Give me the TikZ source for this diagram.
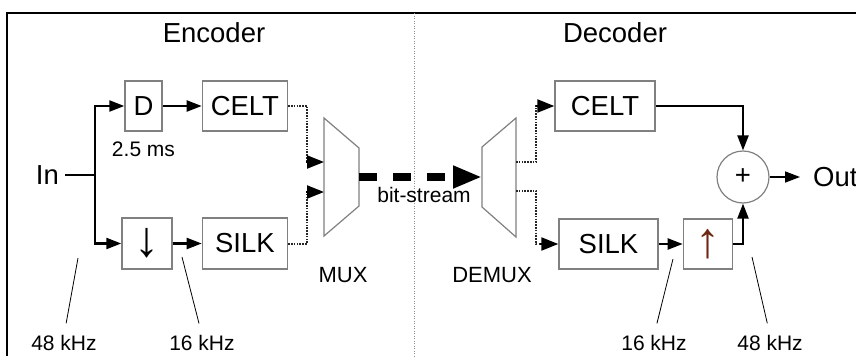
\documentclass[tikz,border=0pt]{standalone}
\usepackage{fontspec}
\setmainfont{Liberation Sans}
\usetikzlibrary{arrows.meta,positioning}
\definecolor{upred}{RGB}{110,40,20}

\begin{document}
\begin{tikzpicture}[x=1pt, y=-1pt,
  big/.style = {font=\fontsize{27.5}{30}\selectfont},
  mid/.style = {font=\fontsize{22}{25}\selectfont, inner sep=0pt},
  small/.style = {font=\fontsize{21}{24}\selectfont, inner sep=0pt},
  block/.style = {draw=black!50, line width=1.4pt, big, minimum height=50pt, inner sep=0pt},
  rate/.style = {font=\fontsize{50}{50}\selectfont},
  sum/.style = {draw=black!50, line width=1.2pt, circle, minimum size=52pt, inner sep=0pt, big},
  sig/.style = {line width=2.2pt, -{Triangle[length=15pt,width=11pt]}},
  dots/.style = {line width=2pt, black!85, dash pattern=on 1.6pt off 1.2pt, shorten >=15pt},
  tip/.style = {line width=2.2pt, -{Triangle[length=17pt,width=13pt]}},
  stream/.style = {line width=8pt, dash pattern=on 18pt off 16pt, -{Triangle[length=29pt,width=21pt]}},
  muxbox/.style = {draw=black!50, line width=1.2pt},
  leader/.style = {line width=0.8pt, shorten >=12pt}]

  \useasboundingbox (0,0) rectangle (856,356);

  \draw[line width=2pt] (7,356) -- (7,13) -- (856,13);
  \draw[black!45, line width=1pt, dash pattern=on 1pt off 1.5pt] (414,13) -- (414,356);

  \node[big] (ENC_title) at (214,33) {Encoder};
  \node[big] (DEC_title) at (615,33) {Decoder};

  \node[big, inner sep=0pt, anchor=east] (IN) at (59,175) {In};
  \coordinate (SPLIT) at (95,175);

  \node[block, minimum width=37pt] (D_enc) at (143.5,106) {D};
  \node[block, minimum width=85pt, right=39pt of D_enc] (CELT_enc) {CELT};
  \node[small, below=10pt of D_enc] (DELAY) {2.5 ms};
  \node[block, rate, minimum width=50pt, minimum height=51pt] (DOWN) at (147,243.5) {↓};
  \node[block, minimum width=85pt, minimum height=51pt, right=29pt of DOWN] (SILK_enc) {SILK};

  \draw[muxbox] (324,118) -- (359,148) -- (359,206) -- (324,236) -- cycle;
  \coordinate (MUX_a) at (324,162);
  \coordinate (MUX_b) at (324,192);
  \coordinate (MUX_o) at (359,177);
  \node[mid] (MUX_lbl) at (343,275) {MUX};

  \draw[muxbox] (482,147) -- (516,118) -- (516,237) -- (482,207) -- cycle;
  \coordinate (DEMUX_i) at (482,177);
  \coordinate (DEMUX_a) at (516,162);
  \coordinate (DEMUX_b) at (516,191);
  \node[mid] (DEMUX_lbl) at (492,275) {DEMUX};

  \node[block, minimum width=100pt] (CELT_dec) at (605,106) {CELT};
  \node[block, minimum width=99pt] (SILK_dec) at (608.5,244) {SILK};
  \node[block, rate, minimum width=49pt, right=24pt of SILK_dec] (UP) {\textcolor{upred}{↑}};
  \node[sum] (SUM) at (743,177) {+};
  \node[big, inner sep=0pt, anchor=west] (OUT) at (813,177) {Out};

  \draw[line width=2.2pt, shorten <=6pt] (IN) -- (SPLIT);
  \draw[sig] (SPLIT) |- (D_enc);
  \draw[sig] (D_enc) -- (CELT_enc);
  \draw[sig] (SPLIT) |- (DOWN);
  \draw[sig] (DOWN) -- (SILK_enc);
  \draw[dots] (CELT_enc.east) -- ++(19,0) |- (MUX_a);
  \draw[tip] (MUX_a) ++(-18,0) -- (MUX_a);
  \draw[dots] (SILK_enc.east) -- ++(19,0) |- (MUX_b);
  \draw[tip] (MUX_b) ++(-18,0) -- (MUX_b);

  \draw[stream] (MUX_o) -- (DEMUX_i);
  \node[small] (STREAM_lbl) at (424,195) {bit-stream};

  \draw[dots] (DEMUX_a) -- ++(20,0) |- (CELT_dec.west);
  \draw[tip] (CELT_dec.west) ++(-18,0) -- (CELT_dec.west);
  \draw[dots] (DEMUX_b) -- ++(20,0) |- (SILK_dec.west);
  \draw[tip] (SILK_dec.west) ++(-18,0) -- (SILK_dec.west);
  \draw[sig] (SILK_dec) -- (UP);
  \draw[sig] (UP) -| (SUM);
  \draw[sig] (CELT_dec) -| (SUM);
  \draw[line width=1.6pt, -{Triangle[length=15pt,width=11pt]}, shorten >=13pt] (SUM) -- (OUT);

  \foreach \n/\tx/\ty/\lx/\txt in {a/78/258/64/48 kHz, b/182/257/202/16 kHz,
                                   c/673/259/654/16 kHz, d/752/257/770/48 kHz} {
    \node[small] (RATE_\n) at (\lx,343) {\txt};
    \coordinate (TICK_\n) at (\tx,\ty);
    \draw[leader] (TICK_\n) -- (RATE_\n.north);
  }

\end{tikzpicture}
\end{document}
